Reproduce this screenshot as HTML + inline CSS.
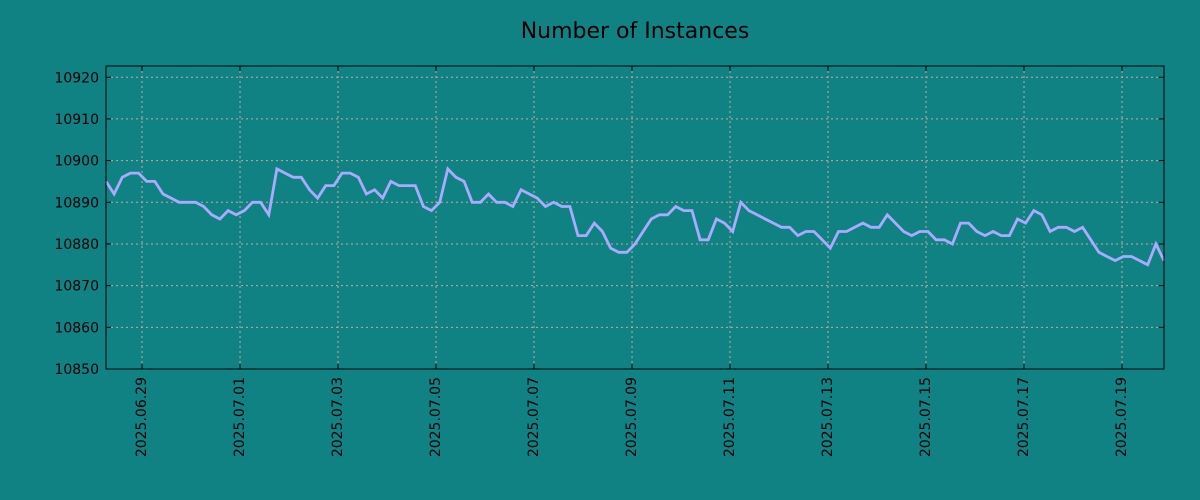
<!DOCTYPE html>
<html><head><meta charset="utf-8"><style>
html,body{margin:0;padding:0;background:#108284;}
svg{display:block;font-family:"DejaVu Sans","Liberation Sans",sans-serif;}
</style></head><body>
<svg id="chart" width="1200" height="500" viewBox="0 0 1200 500">
<rect x="0" y="0" width="1200" height="500" fill="#108284"/>
<text x="635" y="38" text-anchor="middle" font-size="22" fill="#000">Number of Instances</text>
<g id="grid"></g><g id="series"></g><g id="axes"></g>
</svg>
<script>
const values = [10895,10892,10896,10897,10897,10895,10895,10892,10891,10890,10890,10890,10889,10887,10886,10888,10887,10888,10890,10890,10887,10898,10897,10896,10896,10893,10891,10894,10894,10897,10897,10896,10892,10893,10891,10895,10894,10894,10894,10889,10888,10890,10898,10896,10895,10890,10890,10892,10890,10890,10889,10893,10892,10891,10889,10890,10889,10889,10882,10882,10885,10883,10879,10878,10878,10880,10883,10886,10887,10887,10889,10888,10888,10881,10881,10886,10885,10883,10890,10888,10887,10886,10885,10884,10884,10882,10883,10883,10881,10879,10883,10883,10884,10885,10884,10884,10887,10885,10883,10882,10883,10883,10881,10881,10880,10885,10885,10883,10882,10883,10882,10882,10886,10885,10888,10887,10883,10884,10884,10883,10884,10881,10878,10877,10876,10877,10877,10876,10875,10880,10876];
const xTickLabels = ["2025.06.29","2025.07.01","2025.07.03","2025.07.05","2025.07.07","2025.07.09","2025.07.11","2025.07.13","2025.07.15","2025.07.17","2025.07.19"];
const xTickDays = [0,2,4,6,8,10,12,14,16,18,20];
const yTicks = [10850,10860,10870,10880,10890,10900,10910,10920];
const startDay = -0.735, endDay = 20.857;
const yMin = 10850, yMax = 10922.7;
const L=106,R=1164,T=66,B=369;
const NS="http://www.w3.org/2000/svg";
function xs(d){return L+(d-startDay)/(endDay-startDay)*(R-L);}
function ys(v){return B-(v-yMin)/(yMax-yMin)*(B-T);}
function mk(tag,attrs,parent){const e=document.createElementNS(NS,tag);for(const k in attrs)e.setAttribute(k,attrs[k]);parent.appendChild(e);return e;}
const grid=document.getElementById('grid'),series=document.getElementById('series'),axes=document.getElementById('axes');
yTicks.forEach(v=>{const y=ys(v);
 const g=mk('line',{x1:L,x2:R,y1:y,y2:y,stroke:'#c8a8a0','stroke-width':1,'stroke-dasharray':'2,3'},grid);
 
 
 const t1=mk('line',{x1:L,x2:L+5,y1:y,y2:y,stroke:'#000'},axes);
 
 
 const t2=mk('line',{x1:R-5,x2:R,y1:y,y2:y,stroke:'#000'},axes);
 
 
 const tx=mk('text',{x:99,y:y+5,'text-anchor':'end','font-size':14,fill:'#000'},axes);tx.textContent=v;
 
 
});
xTickDays.forEach((d,i)=>{const x=xs(d);
 const g=mk('line',{x1:x,x2:x,y1:T,y2:B,stroke:'#c8a8a0','stroke-width':1,'stroke-dasharray':'2,3'},grid);
 
 
 const t1=mk('line',{x1:x,x2:x,y1:B-5,y2:B,stroke:'#000'},axes);
 
 
 const t2=mk('line',{x1:x,x2:x,y1:T,y2:T+5,stroke:'#000'},axes);
 
 
 const tx=mk('text',{x:0,y:0,'text-anchor':'end','font-size':14,fill:'#000',transform:`translate(${x+4},377) rotate(-90)`},axes);tx.textContent=xTickLabels[i];
 
 
});
const n=values.length;
const pts=values.map((v,i)=>{const d=startDay+i*(endDay-startDay)/(n-1);return xs(d).toFixed(1)+','+ys(v).toFixed(1);}).join(' ');
const line=mk('polyline',{points:pts,fill:'none',stroke:'#aaaaff','stroke-width':2.8,'stroke-linejoin':'miter'},series);


const frame=mk('rect',{x:L,y:T,width:R-L,height:B-T,fill:'none',stroke:'#000','stroke-width':1},axes);


</script>
</body></html>
